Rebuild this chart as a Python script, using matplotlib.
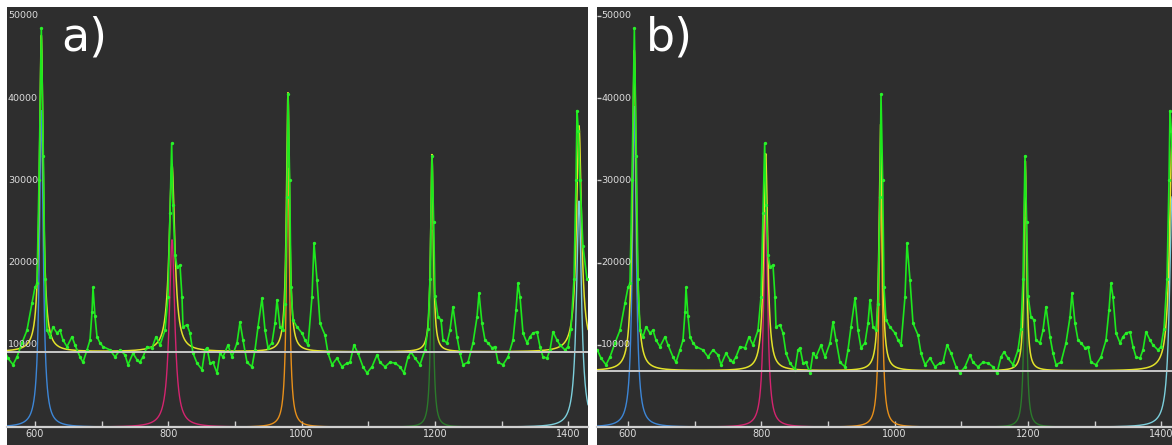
import numpy as np
import matplotlib
matplotlib.use("Agg")
import matplotlib.pyplot as plt
from matplotlib.ticker import FixedLocator

W, H = 1172, 445

# ---- measured spectrum (green) ----
spec_x = [554, 559.5, 567, 573, 580.5, 588, 595.5, 600, 603, 606, 609.5, 612.5, 615, 618,
          622.5, 627, 633, 637.5, 642, 648, 655.5, 660, 667.5, 672, 678, 682.5, 685.5, 687,
          690, 693, 697.5, 702, 712.5, 720, 727.5, 735, 739.5, 747, 753, 757, 762, 768,
          775.5, 781.5, 787.5, 795, 799.5, 802.5, 805, 807, 810, 813, 817.5, 820.5, 822,
          828, 832.5, 837, 843, 850.5, 855, 858, 862.5, 867, 873, 877.5, 882, 889.5, 895.5,
          903, 907.5, 912, 918, 925.5, 930, 934.5, 940.5, 945, 949.5, 955.5, 960, 963,
          967.5, 972, 975, 978, 979.5, 982, 984, 987, 993, 1000.5, 1005, 1009.5, 1015.5,
          1018.5, 1023, 1027.5, 1035, 1039.5, 1045.5, 1053, 1060.5, 1068, 1072.5, 1078.5,
          1084.5, 1092, 1098, 1105.5, 1113, 1117.5, 1125, 1132.5, 1140, 1147.5, 1153.5,
          1159.5, 1164, 1170, 1177.5, 1185, 1189.5, 1192.5, 1195.5, 1198, 1200, 1204.5,
          1209, 1212, 1218, 1222.5, 1227, 1233, 1237.5, 1242, 1249.5, 1257, 1263, 1266,
          1270.5, 1275, 1279.5, 1285.5, 1290, 1294.5, 1302, 1309.5, 1317, 1321.5, 1324.5,
          1327.5, 1332, 1338, 1342.5, 1347, 1353, 1357.5, 1362, 1368, 1372.5, 1377, 1383,
          1387.5, 1395, 1399.5, 1404, 1408.5, 1411.5, 1413, 1415, 1417.5, 1422, 1428]
spec_y = [9400, 8400, 7600, 8550, 10250, 11800, 15100, 17000, 17500, 30000, 48500, 33000,
          18000, 11800, 11000, 12200, 11450, 11800, 10600, 9800, 11000, 10000, 8550, 7900,
          9400, 10600, 14000, 17000, 13500, 11000, 10250, 9800, 9400, 8550, 9400, 8800, 7600,
          9000, 8200, 7900, 8550, 9800, 9650, 11000, 10000, 11800, 15850, 26000, 34500,
          27000, 21000, 19500, 19700, 15850, 12200, 12450, 11450, 9000, 7800, 7000, 9400,
          9650, 7800, 7900, 6600, 9000, 8550, 10000, 8550, 10250, 12800, 10600, 7900, 7350,
          9400, 12200, 15700, 11800, 9650, 10250, 12650, 15500, 12200, 11800, 15000, 28000,
          40500, 30000, 17000, 13050, 12200, 11450, 10600, 10000, 15850, 22400, 17900,
          12650, 11200, 9000, 7600, 8400, 7350, 7800, 7900, 10000, 9000, 7350, 6600, 7350,
          8800, 7900, 7350, 7900, 7800, 7350, 6600, 8550, 9150, 8400, 7600, 9400, 12000,
          18000, 33000, 25000, 16000, 13400, 13050, 10600, 10250, 11800, 14650, 11000, 9000,
          7600, 7900, 10250, 13400, 16300, 12650, 10600, 10250, 9650, 9800, 7900, 7600,
          8550, 10600, 14250, 17500, 15850, 11450, 10250, 11000, 11450, 11600, 9800, 8550,
          8400, 9400, 11600, 10600, 10000, 9400, 9800, 12000, 18000, 30000, 38500, 36000,
          30000, 22000, 18000]

# ---- fitted Lorentzian components (center, height, half width) ----
comp_colors = ['#3d86d6', '#d4246f', '#e8901a', '#2b7a2b', '#7ccfdc']
a_centers = [609.5, 805.5, 979.5, 1195.5, 1416]
a_heights = [38500, 22800, 31500, 24000, 27500]
a_widths = [3.4, 5.0, 2.8, 2.4, 4.5]
a_baseline = 9150
b_centers = [609.5, 806.5, 979, 1196, 1416]
b_heights = [39000, 26400, 30000, 25500, 28000]
b_widths = [3.4, 3.6, 2.8, 2.3, 4.5]
b_baseline = 6840

y_ticks = [10000, 20000, 30000, 40000, 50000]
x_major = [600, 800, 1000, 1200, 1400]
x_minor = [700, 900, 1100, 1300]

BG = '#2e2e2e'
TXT = '#dcdcdc'

fig = plt.figure(figsize=(W / 100, H / 100), dpi=100, facecolor='white')


def panel(rect, xlim, centers, heights, widths, baseline, label, label_px, ytick_len):
    ax = fig.add_axes(rect)
    ax.set_facecolor(BG)
    ax.set_xlim(*xlim)
    ax.set_ylim(-2158, 51094)
    xs = np.linspace(xlim[0], xlim[1], 4000)
    total = np.full_like(xs, float(baseline))
    for c, h, g, col in zip(centers, heights, widths, comp_colors):
        comp = h / (1 + ((xs - c) / g) ** 2)
        total += comp
        ax.plot(xs, comp, color=col, lw=1.0, zorder=2)
    ax.plot(xs, total, color='#e2e22a', lw=1.1, zorder=3)
    ax.plot(spec_x, spec_y, color='#1ee81e', lw=1.2, marker='o', ms=1.4,
            mec='#2af02a', mfc='#2af02a', zorder=4)
    ax.axhline(baseline, color='#c8c8c8', lw=1.4, zorder=5)

    for s in ['top', 'right', 'left']:
        ax.spines[s].set_visible(False)
    ax.spines['bottom'].set_position(('data', 0))
    ax.spines['bottom'].set_color('#d0d0d0')
    ax.spines['bottom'].set_linewidth(1.6)
    ax.spines['bottom'].set_zorder(6)
    ax.xaxis.set_major_locator(FixedLocator(x_major))
    ax.xaxis.set_minor_locator(FixedLocator(x_minor))
    ax.set_xticklabels([str(v) for v in x_major])
    ax.tick_params(axis='x', which='both', direction='in', length=4, width=1,
                   color='#d0d0d0', labelsize=7, labelcolor=TXT, pad=1.5)
    ax.set_yticks(y_ticks)
    ax.tick_params(axis='y', direction='in', length=ytick_len, width=1,
                   color='#d0d0d0', labelleft=False)
    axw_px = rect[2] * W
    for v in y_ticks:
        ax.text((ytick_len * 1.0 + 1) / axw_px, v, str(v), transform=ax.get_yaxis_transform(),
                ha='left', va='center', fontsize=6.8, color=TXT, zorder=7)
    fig.text(label_px / W, 1 - 38 / H, label, fontsize=33, color='white',
             ha='left', va='center')
    return ax


panel([7 / W, 0, 581 / W, 438 / H], (558, 1429.5), a_centers, a_heights, a_widths,
      a_baseline, 'a)', 61, 0)
panel([597 / W, 0, 575 / W, 438 / H], (553.5, 1416), b_centers, b_heights, b_widths,
      b_baseline, 'b)', 646, 3)

fig.savefig('out.png', dpi=100, facecolor='white')
